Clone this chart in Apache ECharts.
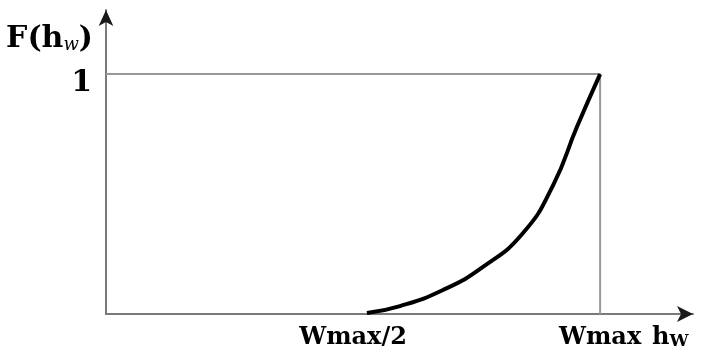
<!DOCTYPE html>
<html>
<head>
<meta charset="utf-8">
<script src="https://cdn.jsdelivr.net/npm/echarts@6/dist/echarts.min.js"></script>
<style>
  html, body { margin: 0; padding: 0; background: #fff; }
  #chart { width: 702px; height: 353px; }
</style>
</head>
<body>
<div id="chart"></div>
<script>
// Membership function F(h_w): zero up to Wmax/2, rising steeply to 1 at Wmax
const xTickValues = [0.5, 1];
const xTickLabels = ['Wmax/2', 'Wmax'];
const yTickValues = [1];
const yTickLabels = ['1'];

const curveX = [0.528, 0.595, 0.682, 0.763, 0.844, 0.905, 0.953, 1.0];
const curveY = [0.004, 0.033, 0.100, 0.196, 0.3375, 0.5375, 0.779, 1.0];

// Bounding lines: F = 1 level and the h_w = Wmax limit
const boundX = [0, 1, 1];
const boundY = [1, 1, 0];

const FONT = 'DejaVu Serif';
const X_MAX = 1.188;
const Y_MAX = 1.267;
const chart = echarts.init(document.getElementById('chart'));

// Second pair of axes with a hairline axis, only carrying the dark arrow heads
const arrowAxis = (size) => ({
  type: 'value', min: 0, show: true,
  splitLine: { show: false }, axisTick: { show: false }, axisLabel: { show: false },
  axisLine: { show: true, lineStyle: { color: '#1a1a1a', width: 0.01 }, symbol: ['none', 'arrow'], symbolSize: size },
  z: 3
});

chart.setOption({
  animation: false,
  backgroundColor: '#ffffff',
  grid: { left: 106, right: 9, top: 10, bottom: 39 },
  xAxis: [{
    type: 'value',
    min: 0,
    max: X_MAX,
    splitLine: { show: false },
    axisLine: {
      show: true,
      lineStyle: { color: '#7a7a7a', width: 2 },
      symbol: 'none'
    },
    axisTick: { show: false },
    axisLabel: {
      customValues: xTickValues,
      formatter: v => xTickLabels[xTickValues.indexOf(v)] || '',
      color: '#000',
      fontFamily: FONT,
      fontWeight: 'bold',
      fontSize: 24,
      margin: 12
    },
    name: '{h|h}{w|W}',
    nameLocation: 'end',
    nameGap: -41,
    nameTextStyle: {
      padding: [48, 0, 0, 0],
      rich: {
        h: { color: '#000', fontFamily: FONT, fontWeight: 'bold', fontSize: 24 },
        w: { color: '#000', fontFamily: FONT, fontWeight: 'bold', fontSize: 17, padding: [8, 0, 0, 0] }
      }
    }
  }, Object.assign(arrowAxis([12, 16]), { max: X_MAX, position: 'bottom' })],
  yAxis: [{
    type: 'value',
    min: 0,
    max: Y_MAX,
    splitLine: { show: false },
    axisLine: {
      show: true,
      lineStyle: { color: '#7a7a7a', width: 2 },
      symbol: 'none'
    },
    axisTick: { show: false },
    axisLabel: {
      customValues: yTickValues,
      formatter: v => yTickLabels[yTickValues.indexOf(v)] || '',
      color: '#000',
      fontFamily: FONT,
      fontWeight: 'bold',
      fontSize: 30,
      margin: 14,
      verticalAlign: 'top',
      lineHeight: 18
    },
    name: '{a|F(h}{s|w}{a|)}',
    nameLocation: 'end',
    nameGap: -14,
    nameTextStyle: {
      align: 'right',
      verticalAlign: 'top',
      padding: [0, 13, 0, 0],
      rich: {
        a: { color: '#000', fontFamily: FONT, fontWeight: 'bold', fontSize: 30 },
        s: { color: '#000', fontFamily: FONT, fontStyle: 'italic', fontSize: 18, padding: [12, 0, 0, 0] }
      }
    }
  }, Object.assign(arrowAxis([11, 16]), { max: Y_MAX, position: 'left' })],
  series: [
    {
      type: 'line',
      data: boundX.map((x, i) => [x, boundY[i]]),
      symbol: 'none',
      lineStyle: { color: '#999999', width: 2 },
      z: 1
    },
    {
      type: 'line',
      data: curveX.map((x, i) => [x, curveY[i]]),
      symbol: 'none',
      smooth: 0.5,
      lineStyle: { color: '#000000', width: 4 },
      z: 2
    }
  ]
});
</script>
</body>
</html>
